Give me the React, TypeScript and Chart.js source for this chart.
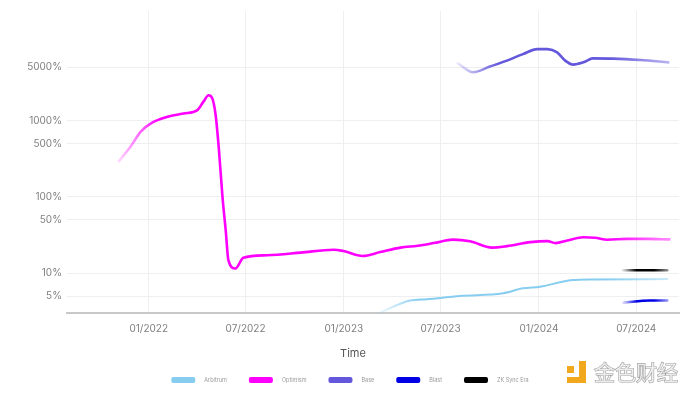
import React, { useEffect, useRef } from 'react';
import { Chart, registerables } from 'chart.js';

Chart.register(...registerables);

const seriesNames = ['Arbitrum', 'Optimism', 'Base', 'Blast', 'ZK Sync Era'];
const seriesColors = ['#86cdf0', '#ff00ff', '#6357dc', '#0000e6', '#000000'];
const xAxisTitle = 'Time';

const arbitrumDates = ['2023-03-08', '2023-05-05', '2023-06-05', '2023-08-06', '2023-10-26', '2023-12-02', '2024-01-03', '2024-03-03', '2024-04-11', '2024-08-28'];
const arbitrumValues = [3.0, 4.37, 4.55, 5.02, 5.45, 6.32, 6.64, 8.11, 8.28, 8.36];

const optimismDates = [
  '2021-11-06', '2021-11-28', '2021-12-17', '2022-01-08', '2022-02-05', '2022-03-07', '2022-04-02', '2022-04-13',
  '2022-04-23', '2022-04-30', '2022-05-06', '2022-05-12', '2022-05-19', '2022-05-25', '2022-05-30', '2022-06-12',
  '2022-06-27', '2022-08-11', '2022-10-12', '2022-12-13', '2022-12-31', '2023-02-05', '2023-03-10', '2023-04-17',
  '2023-05-19', '2023-06-18', '2023-07-24', '2023-08-25', '2023-10-05', '2023-11-02', '2023-12-16', '2024-01-17',
  '2024-02-01', '2024-02-23', '2024-03-24', '2024-04-15', '2024-05-08', '2024-06-14', '2024-07-22', '2024-09-01'
];
const optimismValues = [
  294, 459, 720, 951, 1127, 1245, 1377, 1766,
  2160, 1950, 1197, 437, 98, 36, 14.7, 11.5,
  15.9, 17.2, 18.6, 20.3, 19.5, 16.8, 18.9, 21.6,
  22.9, 24.8, 27.5, 26.2, 21.6, 22.6, 25.5, 26.3,
  24.8, 26.8, 29.6, 29.1, 27.4, 28.2, 28.2, 27.7
];

const baseDates = ['2023-08-02', '2023-08-31', '2023-10-01', '2023-11-02', '2023-12-02', '2023-12-29', '2024-01-17', '2024-02-04', '2024-02-19', '2024-03-05', '2024-03-24', '2024-04-11', '2024-05-19', '2024-07-09', '2024-08-30'];
const baseValues = [5665, 4325, 5130, 6140, 7480, 8690, 8690, 7870, 6140, 5450, 5830, 6580, 6530, 6250, 5830];

const blastDates = ['2024-06-07', '2024-07-27', '2024-08-28'];
const blastValues = [4.11, 4.37, 4.37];

const zkSyncDates = ['2024-06-07', '2024-07-27', '2024-08-28'];
const zkSyncValues = [10.9, 10.9, 10.9];

const yTickValues = [5, 10, 50, 100, 500, 1000, 5000];
const xTickDates = ['2022-01-01', '2022-07-01', '2023-01-01', '2023-07-01', '2024-01-01', '2024-07-01'];
const xRangeDates = ['2021-08-01', '2024-09-19'];
const yRange = [3, 27500];

const EPOCH = Date.UTC(2022, 0, 1);
const toDay = (s: string) => {
  const [y, m, d] = s.split('-').map(Number);
  return (Date.UTC(y, m - 1, d) - EPOCH) / 86400000;
};
const dayLabel = (day: number) => {
  const dt = new Date(EPOCH + day * 86400000);
  return String(dt.getUTCMonth() + 1).padStart(2, '0') + '/' + dt.getUTCFullYear();
};

const hexToRgba = (hex: string, a: number) => {
  const h = hex.replace('#', '');
  const r = parseInt(h.slice(0, 2), 16);
  const g = parseInt(h.slice(2, 4), 16);
  const b = parseInt(h.slice(4, 6), 16);
  return `rgba(${r},${g},${b},${a})`;
};

const allDates = [arbitrumDates, optimismDates, baseDates, blastDates, zkSyncDates];
const allValues = [arbitrumValues, optimismValues, baseValues, blastValues, zkSyncValues];

const fadeColor = (c: any, idx: number) => {
  const chart = c.chart;
  const color = seriesColors[idx];
  const xs = chart.scales && chart.scales.x;
  if (!chart.chartArea || !xs) return color;
  const dates = allDates[idx];
  const x0 = xs.getPixelForValue(toDay(dates[0]));
  const x1 = xs.getPixelForValue(toDay(dates[dates.length - 1]));
  const len = Math.max(1, x1 - x0);
  const fadeIn = Math.min(40, len * 0.3) / len;
  const fadeOut = Math.min(60, len * 0.3) / len;
  const g = chart.ctx.createLinearGradient(x0, 0, x1, 0);
  g.addColorStop(0, hexToRgba(color, 0.15));
  g.addColorStop(fadeIn, hexToRgba(color, 1));
  g.addColorStop(Math.max(fadeIn, 1 - fadeOut), hexToRgba(color, 1));
  g.addColorStop(1, hexToRgba(color, 0.45));
  return g;
};

const legendPlugin = {
  id: 'customLegend',
  afterDraw(chart: any) {
    const ctx = chart.ctx;
    ctx.save();

    // axis title
    ctx.font = '11px Inter';
    ctx.fillStyle = '#555555';
    ctx.textAlign = 'center';
    ctx.textBaseline = 'middle';
    ctx.fillText(xAxisTitle, 353, 354);

    // legend
    ctx.font = '5.5px Inter';
    ctx.textBaseline = 'middle';
    ctx.textAlign = 'left';
    const boxW = 24, boxH = 6, gapBT = 9, gapItems = 22;
    const items = chart.data.datasets.map((d: any, i: number) => ({
      text: d.label,
      color: seriesColors[i],
      w: ctx.measureText(d.label).width,
    }));
    let total = 0;
    items.forEach((it: any, i: number) => {
      total += boxW + gapBT + it.w + (i < items.length - 1 ? gapItems : 0);
    });
    let x = (chart.width - total) / 2;
    const y = 380;
    items.forEach((it: any) => {
      ctx.fillStyle = it.color;
      ctx.beginPath();
      if (ctx.roundRect) ctx.roundRect(x, y - boxH / 2, boxW, boxH, 2);
      else ctx.rect(x, y - boxH / 2, boxW, boxH);
      ctx.fill();
      ctx.fillStyle = '#999999';
      ctx.fillText(it.text, x + boxW + gapBT, y);
      x += boxW + gapBT + it.w + gapItems;
    });

    // watermark
    ctx.fillStyle = '#f2a81d';
    ctx.fillRect(579, 361, 7, 22);
    ctx.fillRect(567, 377, 19, 6);
    ctx.fillRect(567, 366, 7, 7);
    ctx.font = '21px "Noto Sans CJK SC"';
    ctx.lineWidth = 1.2;
    ctx.strokeStyle = 'rgba(150,150,150,0.9)';
    ctx.fillStyle = 'rgba(240,240,240,0.95)';
    ctx.strokeText('金色财经', 594, 372);
    ctx.fillText('金色财经', 594, 372);
    ctx.restore();
  },
};

export default function App() {
  const canvasRef = useRef<HTMLCanvasElement | null>(null);

  useEffect(() => {
    document.body.style.margin = '0';
    const canvas = canvasRef.current;
    if (!canvas) return;

    const datasets = seriesNames.map((name, i) => ({
      label: name,
      data: allDates[i].map((d, j) => ({ x: toDay(d), y: allValues[i][j] })),
      borderColor: (c: any) => fadeColor(c, i),
      backgroundColor: seriesColors[i],
      borderWidth: i === 0 ? 2 : 2.6,
      pointRadius: 0,
      pointHoverRadius: 0,
      cubicInterpolationMode: 'monotone' as const,
      fill: false,
      borderCapStyle: 'round' as const,
      borderJoinStyle: 'round' as const,
    }));

    const chart = new Chart(canvas, {
      type: 'line',
      data: { datasets },
      plugins: [legendPlugin],
      options: {
        animation: false,
        responsive: false,
        maintainAspectRatio: false,
        parsing: false as any,
        layout: { padding: { top: 10, right: 21, bottom: 31, left: 0 } },
        plugins: {
          legend: { display: false },
          tooltip: { enabled: false },
        },
        scales: {
          x: {
            type: 'linear',
            min: toDay(xRangeDates[0]),
            max: toDay(xRangeDates[1]),
            afterBuildTicks: (s: any) => {
              s.ticks = xTickDates.map((d) => ({ value: toDay(d) }));
            },
            afterFit: (s: any) => {
              s.height = 50;
            },
            ticks: {
              autoSkip: false,
              maxRotation: 0,
              padding: 10,
              color: '#808080',
              font: { family: 'Inter', size: 10 },
              callback: (v: any) => dayLabel(Number(v)),
            },
            grid: { color: '#efefef', lineWidth: 1, drawTicks: false },
            border: { display: true, color: '#c8c8c8', width: 2 },
            title: { display: false },
          },
          y: {
            type: 'logarithmic',
            min: yRange[0],
            max: yRange[1],
            afterBuildTicks: (s: any) => {
              s.ticks = yTickValues.map((v) => ({ value: v }));
            },
            afterFit: (s: any) => {
              s.width = 67;
            },
            ticks: {
              padding: 5,
              color: '#808080',
              font: { family: 'Inter', size: 10 },
              callback: (v: any) => `${Number(v)}%`,
            },
            grid: { color: '#efefef', lineWidth: 1, drawTicks: false },
            border: { display: false },
          },
        },
      },
    });

    return () => chart.destroy();
  }, []);

  return (
    <div style={{ width: 700, height: 394, background: '#ffffff' }}>
      <canvas ref={canvasRef} width={700} height={394} style={{ display: 'block' }} />
    </div>
  );
}
